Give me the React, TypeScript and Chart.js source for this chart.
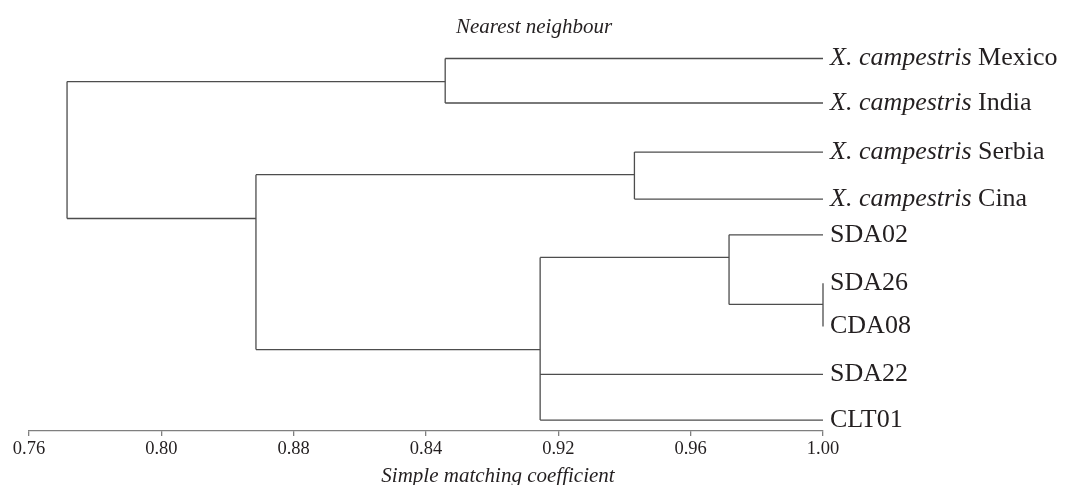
import React, { useEffect, useRef } from "react";
import { Chart, registerables } from "chart.js";
Chart.register(...registerables);

// Leaves (top to bottom)
const leafNames = ["Mexico", "India", "Serbia", "Cina", "SDA02", "SDA26", "CDA08", "SDA22", "CLT01"];
const leafPrefix = ["X. campestris", "X. campestris", "X. campestris", "X. campestris", "", "", "", "", ""];
const leafY = [0, 0.985, 2.07, 3.11, 3.9, 4.97, 5.93, 6.99, 8.0];
const leafX = 1.0;

// Internal nodes: index 9.. (children refer to leaf 0-8 or internal 9+)
const nodeChildren = [[0, 1], [2, 3], [5, 6], [4, 11], [12, 7, 8], [10, 13], [9, 14]];
const nodeX = [0.8858, 0.943, 1.0, 0.9716, 0.9145, 0.8286, 0.7715];
const nodeOutY = [0.51, 2.57, 5.44, 4.4, 6.44, 3.54, 1.9];

const tickValues = [0.76, 0.8, 0.84, 0.88, 0.92, 0.96, 1.0];
const tickLabels = ["0.76", "0.80", "0.88", "0.84", "0.92", "0.96", "1.00"];

const titleText = "Nearest neighbour";
const axisTitleText = "Simple matching coefficient";

const FONT = '"Liberation Serif", "Times New Roman", serif';
const LINE = "#4d4d4d";
const TEXT = "#231f20";

function nodePos(i: number) {
  if (i < leafY.length) return { x: leafX, y: leafY[i] };
  return { x: nodeX[i - leafY.length], y: nodeOutY[i - leafY.length] };
}

function buildSegments() {
  const segs: { x: number; y: number }[][] = [];
  nodeChildren.forEach((kids, k) => {
    const x = nodeX[k];
    const ys = kids.map((c) => nodePos(c).y);
    segs.push([{ x, y: Math.min(...ys) }, { x, y: Math.max(...ys) }]);
    kids.forEach((c) => {
      const p = nodePos(c);
      if (p.x !== x) segs.push([{ x, y: p.y }, { x: p.x, y: p.y }]);
    });
  });
  return segs;
}

const textPlugin = {
  id: "dendroText",
  afterDatasetsDraw(chart: any) {
    const ctx = chart.ctx;
    const xs = chart.scales.x;
    const ys = chart.scales.y;
    ctx.save();
    ctx.fillStyle = TEXT;
    ctx.textBaseline = "middle";
    ctx.textAlign = "left";
    const lx = xs.getPixelForValue(leafX) + 7;
    leafNames.forEach((name, i) => {
      const y = ys.getPixelForValue(leafY[i]);
      let x = lx;
      if (leafPrefix[i]) {
        ctx.font = `italic 26px ${FONT}`;
        ctx.fillText(leafPrefix[i], x, y);
        x += ctx.measureText(leafPrefix[i] + " ").width;
      }
      ctx.font = `26px ${FONT}`;
      ctx.fillText(name, x, y);
    });
    ctx.textAlign = "center";
    ctx.textBaseline = "alphabetic";
    ctx.font = `italic 21px ${FONT}`;
    ctx.fillText(titleText, chart.width / 2, 33);
    ctx.fillText(axisTitleText, 498, 482);
    ctx.restore();
  },
};

export default function App() {
  const ref = useRef<HTMLCanvasElement | null>(null);
  useEffect(() => {
    document.body.style.margin = "0";
    const segs = buildSegments();
    const chart = new Chart(ref.current as HTMLCanvasElement, {
      type: "scatter",
      data: {
        datasets: segs.map((s) => ({
          data: s,
          showLine: true,
          borderColor: LINE,
          borderWidth: 1.3,
          pointRadius: 0,
          fill: false,
          clip: false as any,
        })),
      },
      options: {
        responsive: false,
        animation: false,
        events: [],
        layout: { padding: { left: 29, right: 245, top: 0, bottom: 0 } },
        plugins: { legend: { display: false }, tooltip: { enabled: false }, title: { display: false } },
        scales: {
          x: {
            type: "linear",
            position: "bottom",
            min: 0.76,
            max: 1.0,
            afterBuildTicks: (s: any) => {
              s.ticks = tickValues.map((v) => ({ value: v }));
            },
            afterFit: (s: any) => {
              s.height = 54;
              s.paddingLeft = 0;
              s.paddingRight = 0;
            },
            border: { display: true, color: "#7f7f7f", width: 1.3 },
            grid: { drawOnChartArea: false, drawTicks: true, tickLength: 5, color: "#7f7f7f", lineWidth: 1.3 },
            ticks: {
              autoSkip: false,
              maxRotation: 0,
              padding: 2,
              color: TEXT,
              font: { family: FONT, size: 18.5 },
              callback: (_v: any, i: number) => tickLabels[i],
            },
          },
          y: { type: "linear", display: false, reverse: true, min: -1.294, max: 8.241 },
        },
      },
      plugins: [textPlugin],
    });
    return () => chart.destroy();
  }, []);
  return (
    <div style={{ width: 1068, height: 485, overflow: "hidden", background: "#fff" }}>
      <canvas ref={ref} width={1068} height={485} style={{ display: "block" }} />
    </div>
  );
}
